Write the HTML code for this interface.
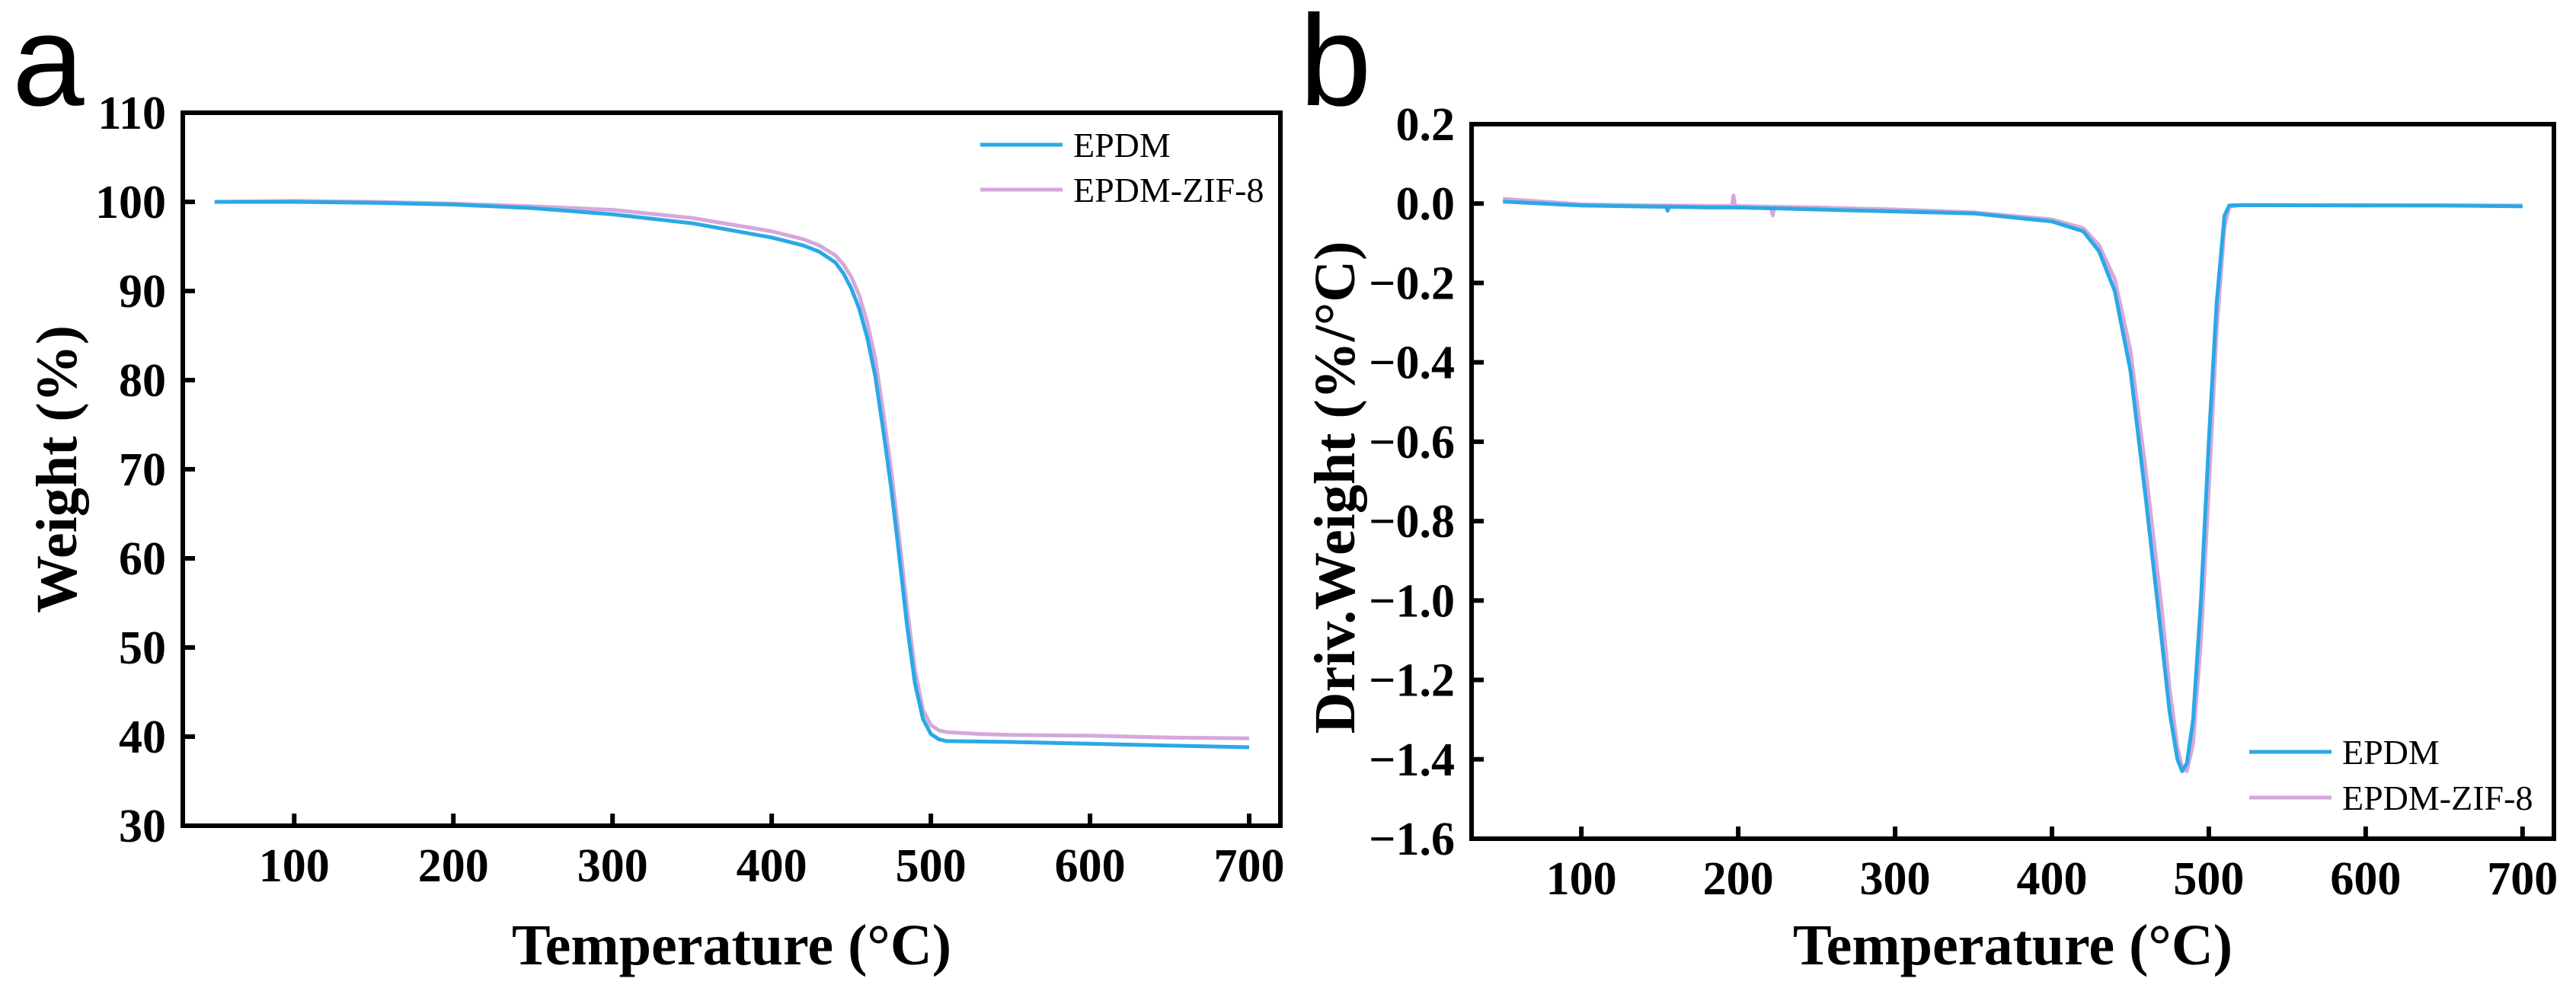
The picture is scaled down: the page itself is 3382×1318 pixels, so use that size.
<!DOCTYPE html>
<html><head><meta charset="utf-8">
<style>
html,body{margin:0;padding:0;background:#fff;}
svg{display:block;}
text{font-family:"Liberation Serif",serif;fill:#000;}
.tk{font-weight:bold;font-size:62px;}
.ttl{font-weight:bold;font-size:76px;}
.lg{font-size:46px;}
.pl{font-family:"Liberation Sans",sans-serif;font-size:170px;}
</style></head>
<body>
<svg id="chart" width="3382" height="1318" xmlns="http://www.w3.org/2000/svg"></svg>
<script>
// Panel a data (TGA)
const tempA = [50,100,150,200,250,300,350,400,420,430,440,445,450,455,460,465,470,475,480,485,490,495,500,505,510,530,550,600,650,700];
const weightEPDM = [100,100,99.9,99.7,99.3,98.6,97.6,96,95.1,94.4,93.2,92,90.3,88,84.8,80.5,74.5,68,60.5,52.5,46,42,40.3,39.7,39.5,39.45,39.4,39.2,39.0,38.8];
const weightZIF = [100,100.1,100,99.8,99.5,99.1,98.2,96.7,95.8,95.1,94.0,93,91.6,89.5,86.5,82.5,76.5,70,62.5,54.5,47.5,43,41.3,40.7,40.5,40.3,40.2,40.1,39.9,39.8];
// Panel b data (DTG)
const tempB = [50,100,150,154,155,156,180,196,197,198,199,221,222,223,250,300,350,400,420,430,440,450,460,470,475,480,483,486,490,495,500,505,510,513,520,600,650,700];
const dtgEPDM = [0.005,-0.005,-0.008,-0.008,-0.018,-0.008,-0.01,-0.01,-0.01,-0.01,-0.01,-0.012,-0.012,-0.012,-0.015,-0.02,-0.025,-0.045,-0.07,-0.12,-0.22,-0.42,-0.75,-1.1,-1.28,-1.4,-1.43,-1.41,-1.3,-1.0,-0.6,-0.25,-0.03,-0.005,-0.004,-0.005,-0.005,-0.007];
const dtgZIF = [0.012,-0.002,-0.005,-0.005,-0.005,-0.005,-0.006,-0.006,0.02,-0.006,-0.006,-0.008,-0.03,-0.008,-0.01,-0.015,-0.022,-0.04,-0.062,-0.105,-0.19,-0.37,-0.68,-1.02,-1.22,-1.37,-1.42,-1.43,-1.36,-1.1,-0.72,-0.32,-0.06,-0.008,-0.004,-0.004,-0.005,-0.005];
const xTicks = [100,200,300,400,500,600,700];
const yTicksA = [30,40,50,60,70,80,90,100,110];
const yTicksB = [0.2,0.0,-0.2,-0.4,-0.6,-0.8,-1.0,-1.2,-1.4,-1.6];
const seriesNames = ["EPDM","EPDM-ZIF-8"];

const NS="http://www.w3.org/2000/svg";
const svg=document.getElementById('chart');
function mk(tag,attrs,parent){const e=document.createElementNS(NS,tag);for(const k in attrs)e.setAttribute(k,attrs[k]);(parent||svg).appendChild(e);return e;}
const BLUE="#2aa8e6", PINK="#d5a8da";

function panel(cfg){
  const g=mk('g',{});
  
  
  const {L,T,R,B,xmin,xmax,ymin,ymax}=cfg;
  const sx=v=>L+(v-xmin)/(xmax-xmin)*(R-L);
  const sy=v=>B-(v-ymin)/(ymax-ymin)*(B-T);
  [[cfg.y2,PINK,seriesNames[1]],[cfg.y1,BLUE,seriesNames[0]]].forEach(([ys,col,nm])=>{
    let d=cfg.x.map((xv,i)=>(i?'L':'M')+sx(xv).toFixed(1)+','+sy(ys[i]).toFixed(1)).join(' ');
    const p=mk('path',{d:d,fill:'none',stroke:col,'stroke-width':5,'stroke-linejoin':'round'},g);
    
    
  });
  const fr=mk('rect',{x:L,y:T,width:R-L,height:B-T,fill:'none',stroke:'#000','stroke-width':6},g);
  
  
  xTicks.forEach(v=>{
    const x=sx(v);
    const t=mk('line',{x1:x,x2:x,y1:B,y2:B-16,stroke:'#000','stroke-width':6},g);
    
    
    const l=mk('text',{x:x,y:B+73,'text-anchor':'middle',class:'tk'},g);
    l.textContent=v;
    
    
  });
  cfg.yt.forEach(v=>{
    const y=sy(v);
    const t=mk('line',{x1:L,x2:L+16,y1:y,y2:y,stroke:'#000','stroke-width':6},g);
    
    
    const l=mk('text',{x:L-22,y:y+21,'text-anchor':'end',class:'tk'},g);
    l.textContent=cfg.fmt(v);
    
    
  });
  const xt=mk('text',{x:(L+R)/2,y:1266,'text-anchor':'middle',class:'ttl'},g);
  xt.textContent='Temperature (°C)';
  
  
  const yt=mk('text',{x:0,y:0,'text-anchor':'middle',class:'ttl',transform:`translate(${cfg.ytx},${cfg.yty}) rotate(-90)`},g);
  yt.textContent=cfg.ytitle;
  
  
  [[BLUE,seriesNames[0],cfg.lg[1]],[PINK,seriesNames[1],cfg.lg[2]]].forEach(([c,nm,y])=>{
    const ln=mk('line',{x1:cfg.lg[0],x2:cfg.lg[0]+108,y1:y,y2:y,stroke:c,'stroke-width':5},g);
    
    
    const tx=mk('text',{x:cfg.lg[0]+122,y:y+16,class:'lg'},g);
    tx.textContent=nm;
    
    
  });
  const pl=mk('text',{x:cfg.plx,y:138,class:'pl'},g);
  pl.textContent=cfg.label;
  
  
}
panel({name:'panel-a',L:240,T:148,R:1681,B:1084,xmin:30,xmax:719.6,ymin:30,ymax:110,
  x:tempA,y1:weightEPDM,y2:weightZIF,yt:yTicksA,fmt:v=>String(v),
  ytitle:'Weight (%)',ytx:100,yty:616,lg:[1287,190,249],label:'a',plx:16});
panel({name:'panel-b',L:1932,T:163,R:3353,B:1101,xmin:30,xmax:720,ymin:-1.6,ymax:0.2,
  x:tempB,y1:dtgEPDM,y2:dtgZIF,yt:yTicksB,fmt:v=>(v<0?'\u2212':'')+Math.abs(v).toFixed(1),
  ytitle:'Driv.Weight (%/°C)',ytx:1778,yty:640,lg:[2953,987,1047],label:'b',plx:1706});
</script>
</body></html>
